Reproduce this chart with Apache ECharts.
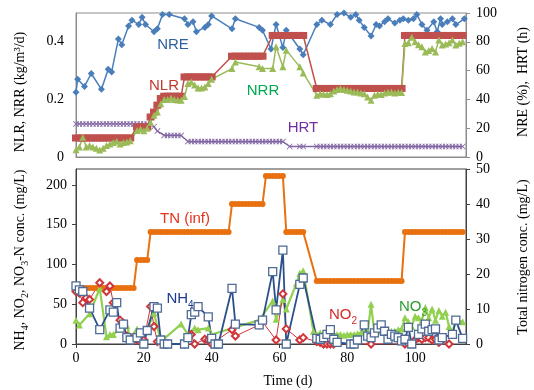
<!DOCTYPE html>
<html>
<head>
<meta charset="utf-8">
<script src="https://cdn.jsdelivr.net/npm/echarts@6/dist/echarts.min.js"></script>
<style>
html,body{margin:0;padding:0;background:#fff;}
#c{width:534px;height:390px;}
</style>
</head>
<body>
<div id="c"></div>
<script>
// ---------- Top panel data ----------
const nreDays = [0,0.5,2.5,4.5,7.5,9.5,10.5,12.5,13.5,15.5,16.5,18.5,19.5,20.5,23,24,25.5,27.5,32,33,34.5,35.5,38,39,40,46,47,54,55,57.5,59,61,62,66,67,71,72.5,75,77,79,81,82.5,83.5,85,87,88.5,89.5,91,92,94,95.5,96.5,98,99.5,100.5,102,103.5,105.5,106.5,107.5,108,109.5,111,112,114.5];
const nreVals = [45,54,49,58,47,61,59,82,78,91,95,92,97,92,87,89,99,99,96,92,94,87,90,92,98,89,96,90,88,75,92,76,88,75,71,92,95,92,99,100,97,99,95,90,84,92,91,94,96,93,95,96,95,96,99,92,88,94,87,96,92,94,96,92,96];

const nlrDays = [0,1,2,3,4,5,6,7,8,9,10,11,12,13,14,15,16,
  18,19,20,21,22,23,24,25,26,27,28,29,30,31,32,33,34,35,36,37,38,39,40,
  46,47,48,49,50,51,52,53,54,55,
  58,59,60,61,62,63,64,65,66,67,
  71,72,73,74,75,76,77,78,79,80,81,82,83,84,85,86,87,88,89,90,91,92,93,94,95,96,
  97,98,99,100,101,102,103,104,105,106,107,108,109,110,111,112,113,114];
const nlrVals = [0.066,0.066,0.066,0.066,0.066,0.066,0.066,0.066,0.066,0.066,0.066,0.066,0.066,0.066,0.066,0.066,0.066,
  0.104,0.104,0.104,0.104,0.139,0.156,0.18,0.203,0.211,0.211,0.211,0.211,0.211,0.211,0.278,0.278,0.278,0.278,0.278,0.278,0.278,0.278,0.278,
  0.35,0.35,0.35,0.35,0.35,0.35,0.35,0.35,0.35,0.35,
  0.422,0.422,0.422,0.422,0.422,0.422,0.422,0.422,0.422,0.422,
  0.238,0.238,0.238,0.238,0.238,0.238,0.238,0.238,0.238,0.238,0.238,0.238,0.238,0.238,0.238,0.238,0.238,0.238,0.238,0.238,0.238,0.238,0.238,0.238,0.238,0.238,
  0.422,0.422,0.422,0.422,0.422,0.422,0.422,0.422,0.422,0.422,0.422,0.422,0.422,0.422,0.422,0.422,0.422,0.422];

const nrrDays = [0,1,2,3,4,5,6,7,8,9,10,11,12,13,14,15,16,18,19,20,21,22,23,24,25,26,27,28,29,30,31,32,33,34,35,36,37,38,39,40,46,47,54,55,58,59,61,62,66,67,
  71,72,73,74,75,76,77,78,79,80,81,82,83,84,85,86,87,88,89,90,91,92,93,94,95,96,
  97,98,99,100,101,102,103,104,105,106,107,108,109,110,111,112,113,114];
const nrrVals = [0.025,0.035,0.069,0.035,0.04,0.035,0.03,0.024,0.03,0.04,0.045,0.05,0.055,0.045,0.05,0.052,0.056,0.092,0.097,0.091,0.1,0.12,0.145,0.156,0.185,0.2,0.2,0.205,0.2,0.198,0.197,0.21,0.255,0.26,0.25,0.24,0.24,0.243,0.255,0.27,0.307,0.33,0.313,0.307,0.307,0.383,0.313,0.371,0.313,0.292,
  0.214,0.22,0.218,0.217,0.22,0.229,0.234,0.238,0.234,0.232,0.229,0.226,0.226,0.222,0.22,0.208,0.197,0.214,0.218,0.217,0.222,0.225,0.226,0.222,0.225,0.224,
  0.394,0.397,0.416,0.4,0.39,0.383,0.365,0.37,0.377,0.365,0.406,0.389,0.392,0.397,0.406,0.389,0.395,0.4];

const hrtDays = [0,1,2,3,4,5,6,7,8,9,10,11,12,13,14,15,16,17,18,19,20,21,23,24,26,27,28,29,30,31,
  33,34,35,36,37,38,39,40,41,42,43,44,45,46,47,48,49,50,51,52,53,54,55,56,57,58,59,60,61,63,66,67,
  71,72,73,74,75,76,77,78,79,80,81,82,83,84,85,86,87,88,89,90,91,92,93,94,95,96,97,98,99,100,101,102,103,104,105,106,107,108,109,110,111,112,113,114];
const hrtVals = [23,23,23,23,23,23,23,23,23,23,23,23,23,23,23,23,23,23,23,23,23,23,21,18,15,15,15,15,15,15,
  10.7,10.7,10.7,10.7,10.7,10.7,10.7,10.7,10.7,10.7,10.7,10.7,10.7,10.7,10.7,10.7,10.7,10.7,10.7,10.7,10.7,10.7,10.7,10.7,10.7,10.7,10.7,10.7,10.7,7.3,7.3,7.3,
  7.3,7.3,7.3,7.3,7.3,7.3,7.3,7.3,7.3,7.3,7.3,7.3,7.3,7.3,7.3,7.3,7.3,7.3,7.3,7.3,7.3,7.3,7.3,7.3,7.3,7.3,7.3,7.3,7.3,7.3,7.3,7.3,7.3,7.3,7.3,7.3,7.3,7.3,7.3,7.3,7.3,7.3,7.3,7.3];

// ---------- Bottom panel data ----------
const tnDays = [0,1,2,3,4,5,6,7,8,9,10,11,12,13,14,15,16,17,18,19,20,21,22,23,24,25,26,27,28,29,30,31,32,33,34,35,36,37,38,39,40,41,42,43,44,45,46,47,48,49,50,51,52,53,54,55,56,57,58,59,60,61,62,63,64,65,66,67,
  71,72,73,74,75,76,77,78,79,80,81,82,83,84,85,86,87,88,89,90,91,92,93,94,95,96,97,98,99,100,101,102,103,104,105,106,107,108,109,110,111,112,113,114];
const tnVals = [16,16,16,16,16,16,16,16,16,16,16,16,16,16,16,16,16,16,
  24,24,24,24,
  32,32,32,32,32,32,32,32,32,32,32,32,32,32,32,32,32,32,32,32,32,32,32,32,
  40,40,40,40,40,40,40,40,40,40,
  48,48,48,48,48,48,
  32,32,32,32,32,32,
  18,18,18,18,18,18,18,18,18,18,18,18,18,18,18,18,18,18,18,18,18,18,18,18,18,18,
  32,32,32,32,32,32,32,32,32,32,32,32,32,32,32,32,32,32];

const nh4Days = [0,1,2,4,7,10,11,12,13,14,15,16,18,19,20,21,23,24,25,26,27,32,33,34,35,36,39,40,41,42,46,47,54,55,58,59,61,62,66,67,71,72,73,74,75,76,77,81,82,83,85,86,87,88,89,90,91,92,93,94,95,96,97,98,99,101,102,103,104,105,106,107,108,111,112,114];
const nh4Vals = [73,68,66,45,18,43,40,52,20,25,8,5,8,14,0,17,47,45,5,0,0,0,8,37,40,47,34,7,0,0,70,25,24,30,91,43,118,0,75,83,7,6,8,12,18,6,2,0,0,5,24,10,8,14,20,24,16,6,12,10,8,4,6,21,0,12,19,25,16,18,19,5,8,12,30,7];

const no2Days = [0,1,2,3,4,7,9,10,11,13,14,15,16,18,19,20,22,23,24,26,32,33,34,35,38,39,40,46,47,54,55,59,61,62,66,67,71,72,73,74,75,76,87,97,100,101,102,103,104,105,106,107,108,110];
const no2Vals = [66,64,52,58,56,77,66,73,52,30,26,10,8,5,13,5,47,22,3,0,0,8,12,0,6,5,0,18,10,24,28,5,63,19,5,8,3,2,0,0,0,0,0,0,5,8,6,8,8,5,6,2,5,0];

const no3Days = [0,1,4,7,9,10,11,13,15,16,18,19,20,23,25,31,33,35,36,39,40,54,58,59,61,62,65,66,67,70,71,72,73,74,75,76,77,78,79,80,81,82,83,84,85,86,87,88,89,90,91,92,93,94,95,96,97,98,99,100,101,102,103,104,105,106,107,108,109,110,111,112,114];
const no3Vals = [30,24,38,70,9,12,12,19,23,8,19,16,8,39,3,25,12,20,18,20,12,30,54,31,56,44,76,89,92,16,12,14,12,14,12,13,12,12,11,12,12,12,13,14,15,14,50,13,19,16,16,15,16,16,18,19,33,28,22,35,33,30,46,33,44,30,42,35,40,22,14,30,28];

// ---------- axis tick settings ----------
const xTicks = {min: 0, max: 115, interval: 20};
const yTopLeft = {min: 0, max: 0.5, interval: 0.2};
const yTopRight = {min: 0, max: 100, interval: 20};
const yBotLeft = {min: 0, max: 220, interval: 50};
const yBotRight = {min: 0, max: 50, interval: 10};

const zip = (xs, ys) => xs.map((x, i) => [x, ys[i]]);

const SERIF = '"Liberation Serif", "Times New Roman", serif';
const SANS = '"Liberation Sans", Arial, sans-serif';
const labelStyle = {fontFamily: SERIF, fontSize: 14, color: '#000'};
const xShape = 'path://M0,1L1,0L5,4L9,0L10,1L6,5L10,9L9,10L5,6L1,10L0,9L4,5Z';

const chart = echarts.init(document.getElementById('c'), null, {renderer: 'canvas'});

const option = {
  animation: false,
  backgroundColor: '#fff',
  grid: [
    {left: 76, top: 13, width: 390, height: 144, show: true, borderColor: '#8c8c8c', borderWidth: 1, backgroundColor: 'transparent'},
    {left: 76, top: 169, width: 390, height: 175, show: true, borderColor: '#404040', borderWidth: 1, backgroundColor: 'transparent'}
  ],
  xAxis: [
    {gridIndex: 0, type: 'value', ...xTicks,
      axisLine: {show: true, lineStyle: {color: '#8c8c8c'}}, axisTick: {show: false}, axisLabel: {show: false}, splitLine: {show: false}},
    {gridIndex: 1, type: 'value', ...xTicks,
      axisLine: {show: true, onZero: false, lineStyle: {color: '#404040'}},
      axisTick: {show: true, inside: false, length: 4, lineStyle: {color: '#404040'}},
      axisLabel: Object.assign({margin: 7, showMaxLabel: false}, labelStyle),
      splitLine: {show: false}}
  ],
  yAxis: [
    {gridIndex: 0, type: 'value', position: 'left', ...yTopLeft,
      axisLine: {show: true, lineStyle: {color: '#8c8c8c'}}, axisTick: {show: false},
      axisLabel: Object.assign({margin: 12, showMaxLabel: false, formatter: v => v === 0 ? '0' : v.toFixed(1)}, labelStyle),
      splitLine: {show: false}},
    {gridIndex: 0, type: 'value', position: 'right', ...yTopRight,
      axisLine: {show: true, lineStyle: {color: '#8c8c8c'}},
      axisTick: {show: true, inside: false, length: 4, lineStyle: {color: '#8c8c8c'}},
      axisLabel: Object.assign({margin: 10}, labelStyle),
      splitLine: {show: false}},
    {gridIndex: 1, type: 'value', position: 'left', ...yBotLeft,
      axisLine: {show: true, lineStyle: {color: '#404040'}},
      axisTick: {show: true, inside: false, length: 4, lineStyle: {color: '#404040'}},
      axisLabel: Object.assign({margin: 9, showMaxLabel: false}, labelStyle),
      splitLine: {show: false}},
    {gridIndex: 1, type: 'value', position: 'right', ...yBotRight,
      axisLine: {show: true, lineStyle: {color: '#404040'}},
      axisTick: {show: true, inside: false, length: 4, lineStyle: {color: '#404040'}},
      axisLabel: Object.assign({margin: 10}, labelStyle),
      splitLine: {show: false}}
  ],
  series: [
    {name: 'HRT', type: 'line', xAxisIndex: 0, yAxisIndex: 1, data: zip(hrtDays, hrtVals),
      symbol: xShape, symbolSize: 6, itemStyle: {color: '#8064a2'}, lineStyle: {color: '#8064a2', width: 1.3}},
    {name: 'NRE', type: 'line', xAxisIndex: 0, yAxisIndex: 1, data: zip(nreDays, nreVals),
      symbol: 'diamond', symbolSize: 7, itemStyle: {color: '#4a7ebb'}, lineStyle: {color: '#4a7ebb', width: 1.5}},
    {name: 'NLR', type: 'line', xAxisIndex: 0, yAxisIndex: 0, data: zip(nlrDays, nlrVals),
      symbol: 'rect', symbolSize: [8, 7], itemStyle: {color: '#c0504d'}, lineStyle: {color: '#c0504d', width: 1.5}},
    {name: 'NRR', type: 'line', xAxisIndex: 0, yAxisIndex: 0, data: zip(nrrDays, nrrVals),
      symbol: 'triangle', symbolSize: 7, itemStyle: {color: '#9bbb59'}, lineStyle: {color: '#9bbb59', width: 1.5}},

    {name: 'TN (inf)', type: 'line', xAxisIndex: 1, yAxisIndex: 3, data: zip(tnDays, tnVals),
      symbol: 'circle', symbolSize: 6, itemStyle: {color: '#e8700f'}, lineStyle: {color: '#e8700f', width: 2}},
    {name: 'NO3', type: 'line', xAxisIndex: 1, yAxisIndex: 2, data: zip(no3Days, no3Vals),
      symbol: 'triangle', symbolSize: 7, itemStyle: {color: '#92d050'}, lineStyle: {color: '#92d050', width: 2.2}},
    {name: 'NO2', type: 'line', xAxisIndex: 1, yAxisIndex: 2, data: zip(no2Days, no2Vals),
      symbol: 'emptyDiamond', symbolSize: 7, itemStyle: {color: '#d0353a', borderWidth: 1}, lineStyle: {color: '#d0353a', width: 1}},
    {name: 'NH4', type: 'line', xAxisIndex: 1, yAxisIndex: 2, data: zip(nh4Days, nh4Vals),
      symbol: 'rect', symbolSize: 8, itemStyle: {color: '#ffffff', borderColor: '#4f6b95', borderWidth: 1.3}, lineStyle: {color: '#2b4f8a', width: 1.8}}
  ],
  graphic: [
    // series labels
    {type: 'text', z: 100, x: 173, y: 45, style: {text: 'NRE', fill: '#2f5fa0', font: '15px ' + SANS, align: 'center', verticalAlign: 'middle'}},
    {type: 'text', z: 100, x: 164, y: 86, style: {text: 'NLR', fill: '#c0392b', font: '15px ' + SANS, align: 'center', verticalAlign: 'middle'}},
    {type: 'text', z: 100, x: 263, y: 91, style: {text: 'NRR', fill: '#00a850', font: '15px ' + SANS, align: 'center', verticalAlign: 'middle'}},
    {type: 'text', z: 100, x: 303, y: 128, style: {text: 'HRT', fill: '#7030a0', font: '15px ' + SANS, align: 'center', verticalAlign: 'middle'}},
    {type: 'text', z: 100, x: 185, y: 219, style: {text: 'TN (inf)', fill: '#e5331b', font: '15px ' + SANS, align: 'center', verticalAlign: 'middle'}},
    {type: 'text', z: 100, x: 180, y: 299, style: {text: '{m|NH}{s|4}', align: 'center', verticalAlign: 'middle',
      rich: {m: {fontSize: 15, fontFamily: SANS, fill: '#1f3a93', lineHeight: 22}, s: {fontSize: 10, fontFamily: SANS, fill: '#1f3a93', lineHeight: 10, verticalAlign: 'bottom'}}}},
    {type: 'text', z: 100, x: 343, y: 315, style: {text: '{m|NO}{s|2}', align: 'center', verticalAlign: 'middle',
      rich: {m: {fontSize: 15, fontFamily: SANS, fill: '#d42a2a', lineHeight: 22}, s: {fontSize: 10, fontFamily: SANS, fill: '#d42a2a', lineHeight: 10, verticalAlign: 'bottom'}}}},
    {type: 'text', z: 100, x: 413, y: 307, style: {text: '{m|NO}{s|3}', align: 'center', verticalAlign: 'middle',
      rich: {m: {fontSize: 15, fontFamily: SANS, fill: '#2e9a2e', lineHeight: 22}, s: {fontSize: 10, fontFamily: SANS, fill: '#2e9a2e', lineHeight: 10, verticalAlign: 'bottom'}}}},
    // axis titles
    {type: 'text', x: 20, y: 92, rotation: Math.PI / 2, style: {text: 'NLR, NRR (kg/m\u00B3/d)', fill: '#000', font: '14px ' + SERIF, align: 'center', verticalAlign: 'middle'}},
    {type: 'text', x: 20, y: 260, rotation: Math.PI / 2, style: {text: '{t|NH}{u|4}{t|, NO}{u|2}{t|, NO}{u|3}{t|-N conc. (mg/L)}', align: 'center', verticalAlign: 'middle',
      rich: {t: {fontSize: 14, fontFamily: SERIF, fill: '#000', lineHeight: 20}, u: {fontSize: 10, fontFamily: SERIF, fill: '#000', lineHeight: 9, verticalAlign: 'bottom'}}}},
    {type: 'text', x: 523, y: 82, rotation: Math.PI / 2, style: {text: 'NRE (%),  HRT (h)', fill: '#000', font: '14px ' + SERIF, align: 'center', verticalAlign: 'middle'}},
    {type: 'text', x: 523, y: 257, rotation: Math.PI / 2, style: {text: 'Total nitrogen conc. (mg/L)', fill: '#000', font: '14px ' + SERIF, align: 'center', verticalAlign: 'middle'}},
    {type: 'text', x: 288, y: 381, style: {text: 'Time (d)', fill: '#000', font: '14px ' + SERIF, align: 'center', verticalAlign: 'middle'}}
  ]
};
chart.setOption(option);
</script>
</body>
</html>
